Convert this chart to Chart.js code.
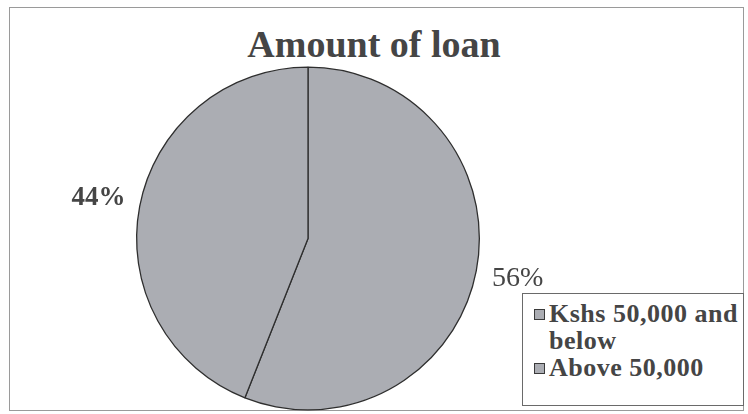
<!DOCTYPE html>
<html>
<head>
<meta charset="utf-8">
<script src="https://cdn.jsdelivr.net/npm/chart.js@4/dist/chart.umd.min.js"></script>
<style>
  html, body { margin: 0; padding: 0; background: #fff; }
  #wrap { position: relative; width: 748px; height: 414px; overflow: hidden; }
  #frame { position: absolute; left: 9px; top: 7px; width: 735px; height: 404px; border: 1px solid #9a9a9a; box-sizing: border-box; }
  #title { position: absolute; left: 0; top: 20px; width: 748px; text-align: center;
           font: bold 38px "Liberation Serif", "Times New Roman", serif; color: #454545; line-height: 48px; }
  canvas { position: absolute; left: 0; top: 0; }
  #legend { position: absolute; left: 522px; top: 293px; width: 222px; height: 113px; box-sizing: border-box;
            border: 1px solid #6a6a6a; background: #fff; padding: 6px 0 0 11px;
            font: bold 26px "Liberation Serif", "Times New Roman", serif; color: #454545; letter-spacing: 0.5px; }
  .item { display: flex; align-items: flex-start; line-height: 27px; }
  .sw { flex: none; width: 9px; height: 9px; border: 1px solid #3a3a3a; margin: 9px 4px 0 0; }
  .txt { width: 196px; }
</style>
</head>
<body>
<div id="wrap">
  <div id="frame"></div>
  <div id="title"></div>
  <canvas id="c" width="748" height="414"></canvas>
  <div id="legend"></div>
</div>
<script>
const titleText = "Amount of loan";
const categories = ["Kshs 50,000 and below", "Above 50,000"];
const values = [56, 44];
const percentLabels = ["56%", "44%"];

const sliceColor = "#abadb3";
const edgeColor = "#2e2e2e";

document.getElementById("title").textContent = titleText;

const legend = document.getElementById("legend");
categories.forEach(function (cat) {
  const item = document.createElement("div");
  item.className = "item";
  const sw = document.createElement("span");
  sw.className = "sw";
  sw.style.background = sliceColor;
  const t = document.createElement("span");
  t.className = "txt";
  t.textContent = cat;
  item.appendChild(sw);
  item.appendChild(t);
  legend.appendChild(item);
});

const pctPlugin = {
  id: "pct",
  afterDatasetsDraw(chart) {
    const ctx = chart.ctx;
    const meta = chart.getDatasetMeta(0);
    const fonts = ['28px "Liberation Serif", serif', 'bold 27px "Liberation Serif", serif'];
    meta.data.forEach(function (arc, i) {
      const p = arc.getProps(["x", "y", "startAngle", "endAngle", "outerRadius"], true);
      const mid = (p.startAngle + p.endAngle) / 2;
      const r = p.outerRadius + 42;
      ctx.save();
      ctx.font = fonts[i];
      ctx.fillStyle = "#454545";
      ctx.textAlign = "center";
      ctx.textBaseline = "middle";
      ctx.fillText(percentLabels[i], p.x + r * Math.cos(mid), p.y + r * Math.sin(mid));
      ctx.restore();
    });
  }
};

new Chart(document.getElementById("c"), {
  type: "pie",
  data: {
    labels: categories,
    datasets: [{
      data: values,
      backgroundColor: [sliceColor, sliceColor],
      borderColor: edgeColor,
      borderWidth: 1.3
    }]
  },
  options: {
    responsive: false,
    animation: false,
    layout: { padding: { left: 136, right: 268, top: 66, bottom: 3 } },
    plugins: {
      legend: { display: false },
      title: { display: false },
      tooltip: { enabled: false }
    }
  },
  plugins: [pctPlugin]
});
</script>
</body>
</html>
